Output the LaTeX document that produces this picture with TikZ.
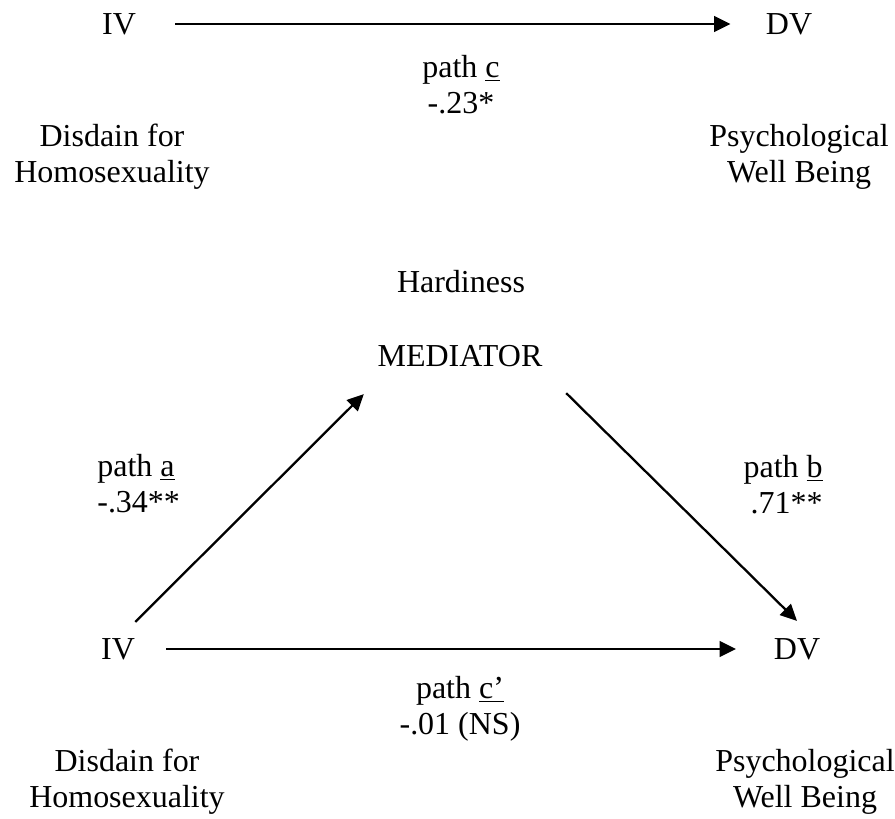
\documentclass[tikz,border=0pt]{standalone}
\usepackage{fontspec}
\setmainfont{Liberation Serif}
\usetikzlibrary{arrows.meta,positioning}
\definecolor{ink}{HTML}{000000}
\tikzset{
  >={Triangle[length=3.3mm,width=3.1mm]},
  every node/.style={font=\fontsize{18.2pt}{20.5pt}\selectfont,text=ink,inner sep=0pt},
  var/.style={inner sep=0pt},
  names/.style={align=center,anchor=north},
  pathlbl/.style={align=center,anchor=north},
  arrow/.style={->,line width=1.6pt,draw=ink},
  diag/.style={->,line width=1.3pt,draw=ink},
}

\begin{document}
\begin{tikzpicture}
  \useasboundingbox (0,0) rectangle (17.9,16.36);
  % top panel: total effect
  \node[var] (ivT) at (2.38,15.88) {IV};
  \node[var] (dvT) at (15.78,15.88) {DV};
  \node[pathlbl] (pathC) at (9.22,15.26) {path \underline{c}\\-.23*};
  \node[names] (disT) at (2.24,13.88) {Disdain for\\Homosexuality};
  \node[names] (psyT) at (15.98,13.88) {Psychological\\Well Being};
  \draw[arrow,shorten <=7.8mm,shorten >=7mm] (ivT) -- (dvT);

  % bottom panel: mediated model
  \node[anchor=base] (hard) at (9.22,10.50) {Hardiness};
  \node[var] (med) at (9.20,9.24) {MEDIATOR};
  \node[var] (ivB) at (2.36,3.38) {IV};
  \node[var] (dvB) at (15.94,3.38) {DV};
  \node[pathlbl,anchor=north west,align=left] (pathA) at (1.94,7.28) {path \underline{a}\\-.34**};
  \node[pathlbl,anchor=north east,align=right] (pathB) at (16.46,7.26) {path \underline{b}\\.71**};
  \node[pathlbl] (pathCp) at (9.20,2.84) {path \underline{c’}\\-.01 (NS)};
  \node[names] (disB) at (2.54,1.38) {Disdain for\\Homosexuality};
  \node[names] (psyB) at (16.10,1.38) {Psychological\\Well Being};
  \draw[diag] ([yshift=3.2mm]ivB.north east) -- ([shift={(-2.7mm,-5.4mm)}]med.south west);
  \draw[diag] ([shift={(4.7mm,-5.2mm)}]med.south east) -- ([yshift=3.4mm]dvB.north);
  \draw[arrow,shorten <=6.2mm,shorten >=7.5mm] (ivB) -- (dvB);
\end{tikzpicture}
\end{document}
